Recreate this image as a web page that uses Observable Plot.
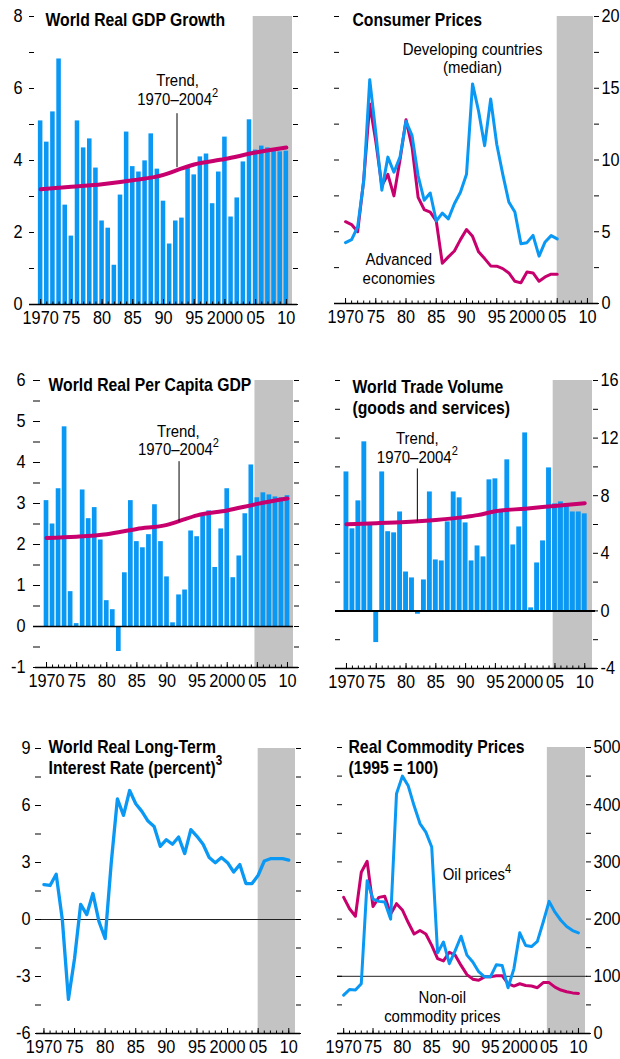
<!DOCTYPE html>
<html><head><meta charset="utf-8">
<script src="https://cdn.jsdelivr.net/npm/d3@7"></script>
<script src="https://cdn.jsdelivr.net/npm/@observablehq/plot@0.6"></script>
<style>
body{margin:0;background:#fff;}
#root{position:relative;width:620px;height:1059px;overflow:hidden;background:#fff;}
#root svg{position:absolute;overflow:visible;}
</style></head><body><div id="root"></div>
<script>
// ---------------- DATA ----------------
const years = d3.range(1970, 2011);           // 1970 … 2010
const cpiYears = d3.range(1970, 2006);        // 1970 … 2005
const xTickYears = [1970, 1975, 1980, 1985, 1990, 1995, 2000, 2005, 2010];
const xTickLabels = ["1970", "75", "80", "85", "90", "95", "2000", "05", "10"];
const trendYears = [1970, 1975, 1980, 1985, 1990, 1992, 1995, 2000, 2005, 2010];

const gdpGrowth = [5.1, 4.51, 5.35, 6.82, 2.76, 1.9, 5.1, 4.35, 4.6, 3.79,
  2.32, 2.12, 1.09, 3.04, 4.79, 3.83, 3.68, 3.99, 4.74, 3.76,
  2.87, 1.68, 2.32, 2.4, 3.8, 3.6, 4.1, 4.18, 2.8, 3.68,
  4.65, 2.43, 2.96, 3.96, 5.13, 4.29, 4.4, 4.35, 4.26, 4.24, 4.26];
const gdpTrend = [3.20, 3.27, 3.34, 3.45, 3.60, 3.72, 3.89, 4.04, 4.22, 4.36];

const cpiDeveloping = [4.24, 4.45, 5.33, 8.5, 15.6, 11.9, 7.9, 10.2, 9.15, 10.2,
  12.7, 11.7, 8.9, 7.2, 7.7, 5.75, 6.3, 5.9, 6.95, 7.75,
  9.0, 15.3, 13.4, 11.0, 14.25, 11.1, 9.0, 7.07, 6.37, 4.17,
  4.24, 4.75, 3.3, 4.29, 4.73, 4.5];
const cpiAdvanced = [5.7, 5.5, 5.0, 8.6, 13.9, 11.3, 8.2, 9.0, 7.5, 10.0,
  12.8, 10.9, 7.4, 6.55, 6.37, 5.75, 2.8, 3.25, 3.66, 4.45,
  5.15, 4.68, 3.6, 3.13, 2.62, 2.6, 2.43, 2.13, 1.55, 1.44,
  2.2, 2.13, 1.55, 1.85, 2.04, 2.04];

const perCapita = [3.07, 2.5, 3.36, 4.87, 0.85, 0.07, 3.33, 2.63, 2.9, 2.11,
  0.63, 0.41, -0.61, 1.31, 3.07, 2.07, 1.92, 2.24, 2.97, 2.07,
  1.21, 0.09, 0.77, 0.89, 2.33, 2.19, 2.7, 2.82, 1.44, 2.38,
  3.36, 1.19, 1.72, 2.75, 3.94, 3.14, 3.26, 3.21, 3.16, 3.14, 3.19];
const perCapitaTrend = [2.16, 2.19, 2.25, 2.38, 2.48, 2.57, 2.71, 2.83, 2.99, 3.12];

const tradeVolume = [9.65, 5.7, 7.64, 11.74, 6.0, -2.2, 9.65, 5.5, 5.42, 6.87,
  2.7, 2.29, -0.23, 2.15, 8.26, 3.54, 3.47, 6.18, 8.26, 7.85,
  6.11, 3.47, 4.51, 3.75, 9.1, 9.17, 7.06, 10.49, 4.58, 5.83,
  12.36, 0.21, 3.33, 4.86, 9.93, 7.43, 7.57, 7.29, 6.87, 6.87, 6.74];
const tradeTrend = [6.02, 6.09, 6.18, 6.32, 6.53, 6.65, 6.92, 7.10, 7.29, 7.48];

const interestRate = [1.84, 1.79, 2.38, 0.0, -4.2, -2.05, 0.8, 0.26, 1.37, -0.12,
  -1.0, 3.0, 6.35, 5.48, 6.79, 6.09, 5.69, 5.18, 4.9, 3.85,
  4.2, 3.96, 4.34, 3.47, 4.73, 4.38, 3.96, 3.26, 2.99, 3.26,
  2.99, 2.5, 2.89, 1.89, 1.89, 2.33, 3.08, 3.2, 3.2, 3.2, 3.13];

const oilPrices = [67, 77, 76, 87, 267, 235, 231, 230, 200, 419,
  450, 433, 398, 367, 352, 326, 141, 160, 122, 145,
  170, 137, 125, 108, 99, 99, 120, 119, 80, 113,
  176, 154, 152, 161, 195, 231, 212, 198, 187, 180, 176];
const nonOilPrices = [238, 218, 205, 282, 301, 222, 238, 240, 209, 227,
  216, 194, 174, 180, 174, 154, 131, 127, 142, 137,
  119, 103, 95, 93, 99, 99, 101, 101, 87, 83,
  87, 84, 83, 80, 89, 89, 81, 76, 73, 71, 70];

// ---------------- STYLE ----------------
const FONT = '"Liberation Sans", Arial, Helvetica, sans-serif';
const BLUE = "#0a98f5", MAG = "#c8006e", SHADE = "#c3c3c3";

const rows = (xs, vs) => xs.map((year, i) => ({year, v: vs[i]}));
const xLabel = d => xTickLabels[xTickYears.indexOf(d)];

function supify(svg) {
  svg.querySelectorAll("text, tspan").forEach(node => {
    if (node.children.length) return;
    const s = node.textContent;
    const i = s.indexOf("^");
    if (i < 0) return;
    node.textContent = s.slice(0, i);
    const sup = document.createElementNS("http://www.w3.org/2000/svg", "tspan");
    sup.setAttribute("font-size", "0.74em");
    sup.setAttribute("dy", "-0.62em");
    sup.textContent = s.slice(i + 1);
    node.appendChild(sup);
  });
}

// condensed look: squeeze every text horizontally about its anchor
function condense(svg) {
  svg.querySelectorAll("text").forEach(t => {
    const fw = t.closest("[font-weight]");
    const bold = fw && fw.getAttribute("font-weight") === "bold";
    const s = bold ? 0.83 : 0.88;
    const tr = t.getAttribute("transform") || "";
    t.setAttribute("transform", tr + ` scale(${s},1)`);
  });
}

function panel(c) {
  const [y0, y1] = c.yDomain;
  const yTicks = d3.range(0, Math.round((y1 - y0) / c.yStep) + 1).map(k => +(y0 + k * c.yStep).toFixed(6));
  const isLab = d => Math.abs(d / c.yLabelStep - Math.round(d / c.yLabelStep)) < 1e-6;
  const fmt = d => isLab(d) ? String(d) : "";
  const marks = [
    Plot.rect([c.shade], {x1: d => d[0], x2: d => d[1], fill: SHADE}),
    ...c.marks,
    Plot.ruleY([y0], {stroke: "black", strokeWidth: 1.5, insetLeft: -5, insetRight: -5}),
    Plot.ruleX(years, {x: d => d, y1: () => y0, y2: () => y0, insetBottom: 2.5, stroke: "black", strokeWidth: 1}),
    Plot.ruleX(xTickYears, {x: d => d, y1: () => y0, y2: () => y0, insetBottom: 5, stroke: "black", strokeWidth: 1}),
    Plot.axisX(xTickYears, {tickSize: 0, tickPadding: c.xPad ?? 6, tickFormat: xLabel, fontSize: 18.5}),
    Plot.axisY(yTicks, {anchor: "left", tickSize: c.tickSizeL ?? 5, tickPadding: c.tickPadL ?? 7,
      tickFormat: c.side === "left" ? fmt : () => "", fontSize: 18.5}),
    Plot.axisY(yTicks, {anchor: "right", tickSize: 5, tickPadding: 3,
      tickFormat: c.side === "right" ? fmt : () => "", fontSize: 18.5}),
    Plot.text([c.title], {frameAnchor: "top-left", text: d => d, textAnchor: "start", lineAnchor: "top",
      dx: c.titleDx, dy: c.titleDy, fontWeight: "bold", fontSize: 19, lineHeight: 1.12, fill: "black"})
  ];
  const svg = Plot.plot({
    width: 310, height: c.height,
    marginLeft: c.ml, marginRight: c.mr, marginTop: c.mt, marginBottom: c.mb,
    x: {domain: c.xDomain, label: null},
    y: {domain: c.yDomain, label: null},
    style: {fontFamily: FONT, fontSize: "18px", color: "black", background: "transparent", overflow: "visible"},
    marks
  });
  supify(svg);
  condense(svg);
  svg.style.left = c.left + "px";
  svg.style.top = c.top + "px";
  document.getElementById("root").appendChild(svg);
}

const bars = (vs, hw) => Plot.rect(rows(years, vs), {x1: d => d.year - hw, x2: d => d.year + hw, y1: () => 0, y2: d => d.v, fill: BLUE});
const trend = vs => Plot.line(rows(trendYears, vs), {x: "year", y: "v", stroke: MAG, strokeWidth: 4, curve: "monotone-x", strokeLinecap: "round"});
const note = (x, y, t, opts = {}) => Plot.text([t], {x: () => x, y: () => y, text: d => d, textAnchor: "middle", lineAnchor: "middle", fontSize: 17, lineHeight: 1.08, fill: "black", ...opts});

// 1. World Real GDP Growth
panel({left: 0, top: 0, height: 345, ml: 34, mr: 18, mt: 16, mb: 41,
  xDomain: [1969, 2011], yDomain: [0, 8], yStep: 1, yLabelStep: 2, side: "left",
  shade: [2004.6, 2011], title: "World Real GDP Growth", titleDx: 11, titleDy: -6,
  marks: [
    bars(gdpGrowth, 0.37),
    trend(gdpTrend),
    Plot.ruleX([1992.2], {x: d => d, y1: () => 5.3, y2: () => 3.8, stroke: "black", strokeWidth: 1}),
    note(1992.3, 5.97, "Trend,\n1970–2004^2")
  ]});

// 2. Consumer Prices
panel({left: 310, top: 0, height: 345, ml: 29, mr: 27, mt: 16, mb: 42,
  xDomain: [1969, 2011], yDomain: [0, 20], yStep: 2.5, yLabelStep: 5, side: "right",
  shade: [2005, 2011], title: "Consumer Prices", titleDx: 13, titleDy: -6,
  marks: [
    Plot.line(rows(cpiYears, cpiAdvanced), {x: "year", y: "v", stroke: MAG, strokeWidth: 3, strokeLinejoin: "round"}),
    Plot.line(rows(cpiYears, cpiDeveloping), {x: "year", y: "v", stroke: BLUE, strokeWidth: 3, strokeLinejoin: "round"}),
    note(1991, 17.1, "Developing countries\n(median)"),
    note(1978.8, 2.44, "Advanced\neconomies")
  ]});

// 3. World Real Per Capita GDP
panel({left: 0, top: 365, height: 330, ml: 40, mr: 17, mt: 15, mb: 28,
  xDomain: [1969, 2011], yDomain: [-1, 6], yStep: 0.5, yLabelStep: 1, side: "left",
  tickSizeL: 7, tickPadL: 8,
  shade: [2004.6, 2011], title: "World Real Per Capita GDP", titleDx: 8, titleDy: -5,
  marks: [
    bars(perCapita, 0.39),
    Plot.ruleY([0], {stroke: "black", strokeWidth: 1.5, insetLeft: -7, insetRight: 0}),
    trend(perCapitaTrend),
    Plot.ruleX([1992.0], {x: d => d, y1: () => 4.02, y2: () => 2.55, stroke: "black", strokeWidth: 1}),
    note(1991.9, 4.55, "Trend,\n1970–2004^2")
  ]});

// 4. World Trade Volume
panel({left: 310, top: 365, height: 330, ml: 30, mr: 28, mt: 15, mb: 27,
  xDomain: [1969, 2011.3], yDomain: [-4, 16], yStep: 2, yLabelStep: 4, side: "right",
  shade: [2004.7, 2011.3], title: "World Trade Volume\n(goods and services)", titleDx: 12, titleDy: -3,
  marks: [
    bars(tradeVolume, 0.41),
    Plot.ruleY([0], {stroke: "black", strokeWidth: 2, insetLeft: -5, insetRight: -3}),
    trend(tradeTrend),
    Plot.ruleX([1981.9], {x: d => d, y1: () => 9.86, y2: () => 6.18, stroke: "black", strokeWidth: 1}),
    note(1981.9, 11.35, "Trend,\n1970–2004^2")
  ]});

// 5. World Real Long-Term Interest Rate
panel({left: 0, top: 725, height: 334, ml: 41, mr: 15, mt: 23, mb: 26,
  xDomain: [1969.6, 2011.1], yDomain: [-6, 9], yStep: 1.5, yLabelStep: 3, side: "left",
  tickSizeL: 6, tickPadL: 5,
  shade: [2005, 2011.1], title: "World Real Long-Term\nInterest Rate (percent)^3", titleDx: 7, titleDy: -11,
  marks: [
    Plot.ruleY([0], {stroke: "#222", strokeWidth: 1, insetLeft: -6, insetRight: -5}),
    Plot.line(rows(years, interestRate), {x: "year", y: "v", stroke: BLUE, strokeWidth: 3.3, strokeLinejoin: "round"})
  ]});

// 6. Real Commodity Prices
panel({left: 310, top: 725, height: 334, ml: 32, mr: 35, mt: 22, mb: 26,
  xDomain: [1969.8, 2011.2], yDomain: [0, 500], yStep: 50, yLabelStep: 100, side: "right",
  shade: [2004.7, 2011.2], title: "Real Commodity Prices\n(1995 = 100)", titleDx: 6, titleDy: -10,
  marks: [
    Plot.ruleY([100], {stroke: "#222", strokeWidth: 1, insetLeft: -5, insetRight: -2}),
    Plot.line(rows(years, nonOilPrices), {x: "year", y: "v", stroke: MAG, strokeWidth: 3, strokeLinejoin: "round"}),
    Plot.line(rows(years, oilPrices), {x: "year", y: "v", stroke: BLUE, strokeWidth: 3, strokeLinejoin: "round"}),
    note(1992.7, 278, "Oil prices^4"),
    note(1986.8, 47, "Non-oil\ncommodity prices")
  ]});
</script></body></html>
